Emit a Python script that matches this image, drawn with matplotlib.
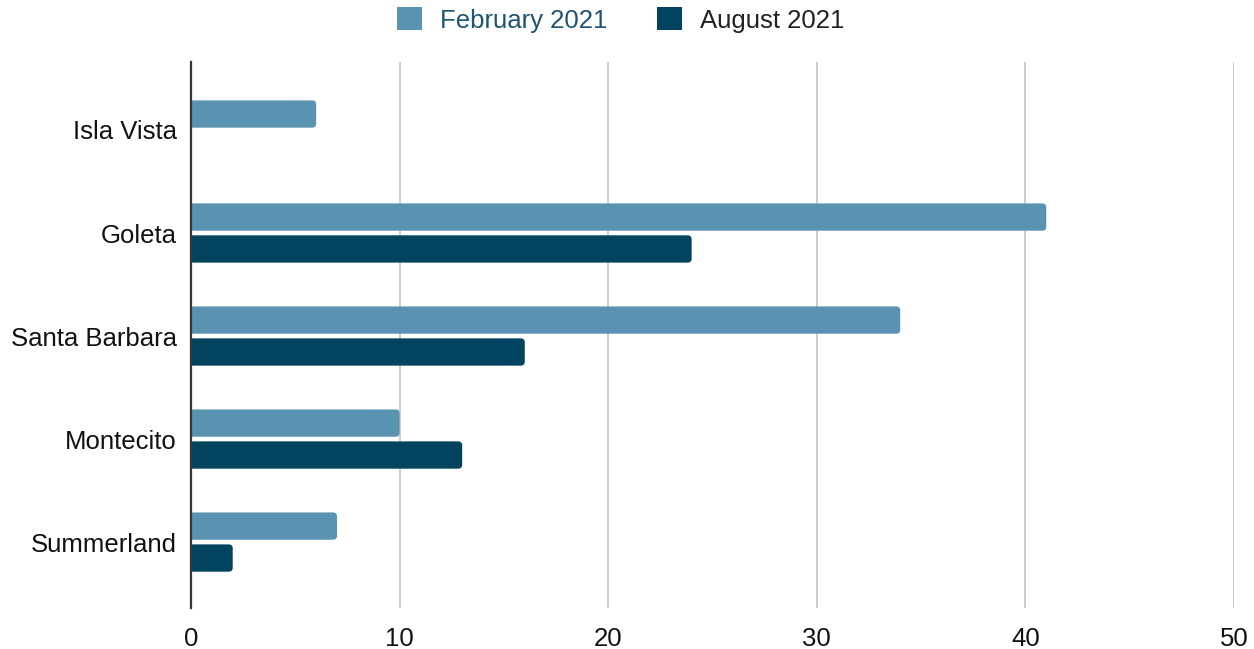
import matplotlib
matplotlib.use("Agg")
import matplotlib.pyplot as plt
from matplotlib.patches import FancyBboxPatch, Patch
import numpy as np

plt.rcParams['font.family'] = ['Liberation Sans', 'DejaVu Sans']

categories = ["Isla Vista", "Goleta", "Santa Barbara", "Montecito", "Summerland"]
feb_2021 = [6, 41, 34, 10, 7]
aug_2021 = [0, 24, 16, 13, 2]
series_names = ["February 2021", "August 2021"]
colors = ["#5a93b2", "#02445f"]
xticks = [0, 10, 20, 30, 40, 50]

FS = 18.5

fig = plt.figure(figsize=(12.54, 6.49), dpi=100)
ax = fig.add_axes([191/1254, 1-608/649, (1234-191)/1254, (608-62)/649])

y = np.arange(len(categories))
h = 0.265
off = 0.155
b1 = ax.barh(y - off, feb_2021, height=h, color=colors[0])
b2 = ax.barh(y + off, aug_2021, height=h, color=colors[1])

ax.set_xlim(0, 50)
ax.set_ylim(4.64, -0.66)

# rounded right ends
fig.canvas.draw()
pxx = ax.transData.transform((1, 0))[0] - ax.transData.transform((0, 0))[0]
pxy = abs(ax.transData.transform((0, 1))[1] - ax.transData.transform((0, 0))[1])
r_px = 4.0
rx = r_px / pxx
aspect = pxx / pxy
for bars in (b1, b2):
    for p in bars.patches:
        w = p.get_width()
        if w <= 0:
            p.set_visible(False)
            continue
        x0, y0 = p.get_x(), p.get_y()
        hh = p.get_height()
        fb = FancyBboxPatch((x0 - rx * 2, y0), w + rx * 2, hh,
                            boxstyle=f"round,pad=0,rounding_size={rx}",
                            mutation_aspect=aspect,
                            facecolor=p.get_facecolor(), edgecolor='none',
                            clip_on=True, zorder=p.get_zorder())
        ax.add_patch(fb)
        p.set_visible(False)

ax.set_yticks(y)
ax.set_yticklabels(categories, fontsize=FS, color="#111111")
ax.set_xticks(xticks)
ax.set_xticklabels([str(t) for t in xticks], fontsize=FS, color="#111111")
ax.tick_params(axis='both', length=0)
ax.tick_params(axis='y', pad=10)
ax.tick_params(axis='x', pad=14)

for s in ["top", "right", "bottom"]:
    ax.spines[s].set_visible(False)
ax.spines["left"].set_color("#333333")
ax.spines["left"].set_linewidth(1.6)
ax.spines["left"].set_zorder(5)

ax.grid(axis='x', color="#cccccc", linewidth=1.4)
ax.set_axisbelow(True)

handles = [Patch(facecolor=colors[0]), Patch(facecolor=colors[1])]
leg = fig.legend(handles, series_names, loc='center', bbox_to_anchor=(0.495, 1 - 20/649),
                 ncol=2, frameon=False, fontsize=FS, handlelength=1.0, handleheight=1.0,
                 handletextpad=0.7, columnspacing=1.9)
leg.get_texts()[0].set_color("#1f5472")
leg.get_texts()[1].set_color("#222222")

fig.savefig("out.png", dpi=100)
